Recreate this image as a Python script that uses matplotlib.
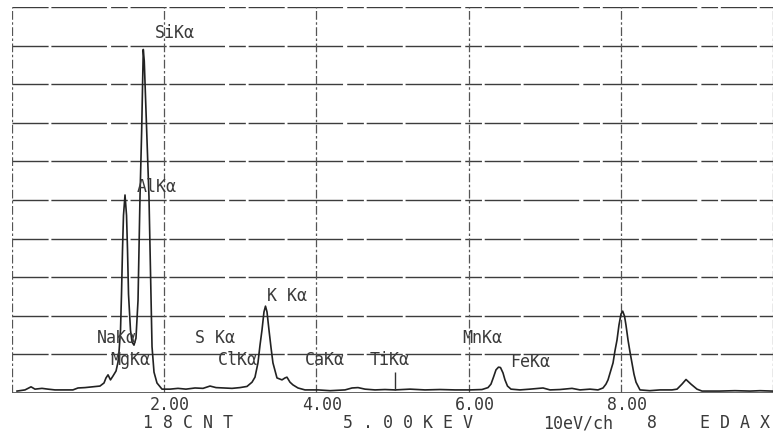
import matplotlib
matplotlib.use("Agg")
import matplotlib.pyplot as plt
from matplotlib.transforms import ScaledTranslation

# spectrum: energy (keV) and height (% of full scale)
spectrum_kev = [
    0.066, 0.171, 0.250, 0.302, 0.394, 0.473, 0.565, 0.800, 0.867, 0.959,
    1.064, 1.156, 1.209, 1.235, 1.262, 1.294, 1.327, 1.367, 1.393, 1.406,
    1.426, 1.439, 1.452, 1.465, 1.485, 1.505, 1.518, 1.531, 1.557, 1.577,
    1.603, 1.629, 1.656, 1.669, 1.682, 1.704, 1.725, 1.738, 1.770, 1.800,
    1.820, 1.840, 1.866, 1.905, 1.971, 2.076, 2.181, 2.286, 2.405, 2.510,
    2.602, 2.681, 2.786, 2.891, 2.996, 3.088, 3.154, 3.193, 3.232, 3.259,
    3.285, 3.311, 3.331, 3.351, 3.377, 3.404, 3.429, 3.482, 3.548, 3.587,
    3.613, 3.653, 3.692, 3.758, 3.850, 4.021, 4.180, 4.376, 4.468, 4.547,
    4.639, 4.770, 4.900, 5.033, 5.230, 5.427, 5.624, 5.821, 6.018, 6.176,
    6.255, 6.294, 6.327, 6.360, 6.393, 6.419, 6.452, 6.478, 6.511, 6.557,
    6.675, 6.807, 6.978, 7.070, 7.200, 7.359, 7.464, 7.595, 7.700, 7.766,
    7.805, 7.832, 7.871, 7.898, 7.924, 7.950, 7.976, 8.003, 8.025, 8.049,
    8.068, 8.095, 8.121, 8.147, 8.173, 8.200, 8.252, 8.380, 8.515, 8.673,
    8.739, 8.804, 8.857, 8.922, 9.001, 9.067, 9.300, 9.500, 9.700, 9.830,
    9.990,
]
spectrum_counts = [
    0.5, 0.8, 1.6, 1.0, 1.2, 1.0, 0.8, 0.8, 1.3, 1.4,
    1.6, 1.8, 2.6, 3.9, 4.7, 3.4, 4.4, 5.7, 8.0, 10.6,
    16.3, 25.6, 37.0, 46.0, 51.3, 46.0, 37.0, 25.6, 16.3, 13.2,
    12.4, 14.2, 24.0, 37.0, 50.8, 68.0, 89.0, 86.0, 68.0, 50.8,
    32.0, 12.0, 5.4, 2.6, 1.0, 1.0, 1.2, 1.0, 1.3, 1.2,
    1.8, 1.4, 1.3, 1.2, 1.4, 1.7, 2.8, 4.1, 7.8, 12.4,
    16.3, 21.0, 22.5, 21.0, 16.3, 11.7, 7.8, 3.9, 3.4, 3.9,
    4.1, 2.8, 2.1, 1.3, 0.8, 0.8, 0.6, 0.8, 1.3, 1.4,
    1.0, 0.8, 0.9, 0.8, 1.0, 0.8, 0.9, 0.8, 0.8, 0.9,
    1.4, 2.3, 4.1, 6.0, 6.7, 6.6, 5.2, 3.4, 1.8, 1.0,
    0.8, 1.0, 1.3, 0.8, 0.9, 1.2, 0.8, 1.0, 0.8, 1.3,
    2.3, 3.4, 6.0, 7.8, 11.0, 13.7, 17.6, 20.5, 21.2, 19.9,
    17.6, 13.7, 10.6, 7.8, 4.9, 2.8, 0.8, 0.6, 0.8, 0.8,
    1.0, 2.3, 3.5, 2.3, 1.0, 0.5, 0.5, 0.6, 0.5, 0.6,
    0.5,
]

# element labels: text, left edge (keV), height (% full scale)
label_text = ["SiKα", "AlKα", "NaKα", "MgKα", "S Kα", "ClKα", "K Kα",
              "CaKα", "TiKα", "MnKα", "FeKα"]
label_kev = [1.88, 1.64, 1.12, 1.29, 2.41, 2.71, 3.35, 3.85, 4.70, 5.91, 6.54]
label_level = [93.3, 53.4, 14.2, 8.5, 14.2, 8.5, 25.1, 8.5, 8.5, 14.2, 8.0]

# marker bar (TiKα)
marker_kev = [5.03]
marker_top = [5.4]

xtick_vals = [2, 4, 6, 8]
xtick_labels = ["2.00", "4.00", "6.00", "8.00"]
footer_text = ["1 8 C N T", "5 . 0 0 K E V", "10eV/ch", "8", "E D A X"]
footer_x = [188, 408, 578, 652, 735]

mono = ["DejaVu Sans Mono"]
ink = "#3a3a3a"

fig = plt.figure(figsize=(7.82, 4.38), dpi=100)
ax = fig.add_axes([12 / 782, 45 / 438, 761 / 782, 386 / 438])
ax.set_xlim(0, 10)
ax.set_ylim(0, 100)
for s in ax.spines.values():
    s.set_visible(False)

# plotter grid
for yv in range(10, 101, 10):
    ax.axhline(yv, color="#3c3c3c", lw=1.0, dashes=(26, 2, 40, 3, 12, 2))
for xv in [0, 2, 4, 6, 8, 10]:
    ax.axvline(xv, color="#555555", lw=0.9, dashes=(7, 2, 2, 2))
ax.axhline(0, color="#555555", lw=1.3)

ax.plot(spectrum_kev, spectrum_counts, color="#222222", lw=1.2)
ax.vlines(marker_kev, 0.8, marker_top, color="#333333", lw=1.0)

for t, xk, yl in zip(label_text, label_kev, label_level):
    ax.text(xk, yl, t, family=mono, fontsize=12, color=ink,
            ha="left", va="center")

ax.set_yticks([])
ax.set_xticks(xtick_vals)
ax.set_xticklabels(xtick_labels, family=mono, fontsize=12, color=ink)
ax.tick_params(axis="x", length=0, pad=2)
shift = ScaledTranslation(6 / 100, 0, fig.dpi_scale_trans)
for lab in ax.get_xticklabels():
    lab.set_transform(lab.get_transform() + shift)

for t, xp in zip(footer_text, footer_x):
    fig.text(xp / 782, 1 - 423 / 438, t, family=mono, fontsize=12,
             color=ink, ha="center", va="center")

fig.savefig("out.png", dpi=100)
